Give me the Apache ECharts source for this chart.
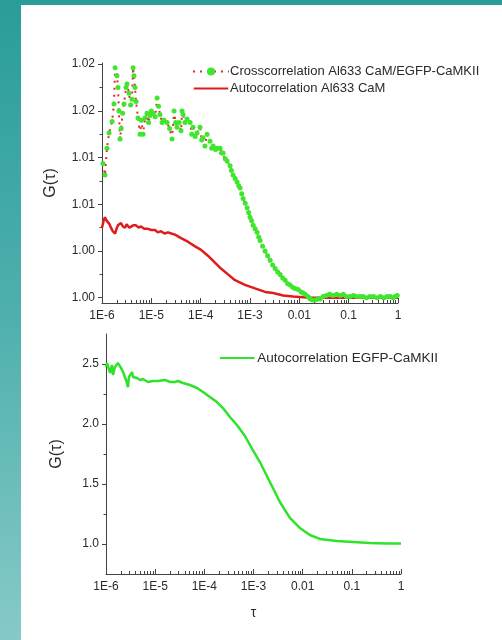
<!DOCTYPE html>
<html>
<head>
<meta charset="utf-8">
<script src="https://cdn.jsdelivr.net/npm/echarts@6/dist/echarts.min.js"></script>
<style>
  html, body { margin: 0; padding: 0; }
  body { width: 502px; height: 640px; position: relative; overflow: hidden;
         background: linear-gradient(to bottom, #2a9d99 0%, #4fb0ad 50%, #86cac8 100%); }
  #panel { position: absolute; left: 21px; top: 5px; right: 0; bottom: 0; background: #ffffff; }
  #chart { position: absolute; left: 0; top: 0; width: 502px; height: 640px; }
</style>
</head>
<body>
<div id="panel"></div>
<div id="chart"></div>
<script>
// Crosscorrelation Al633 CaM / EGFP-CaMKII (lag time τ in s, G(τ))
const crossTau = [1.05e-6,1.15e-6,1.26e-6,1.39e-6,1.60e-6,1.75e-6,1.84e-6,2.01e-6,2.11e-6,2.20e-6,
  2.32e-6,2.45e-6,2.62e-6,2.79e-6,3.07e-6,3.21e-6,3.53e-6,3.80e-6,4.06e-6,4.26e-6,
  4.45e-6,4.67e-6,4.90e-6,5.37e-6,5.90e-6,6.30e-6,6.79e-6,7.45e-6,8.18e-6,8.8e-6,
  9.4e-6,1.00e-5,1.08e-5,1.20e-5,1.31e-5,1.40e-5,1.50e-5,1.65e-5,1.81e-5,2.08e-5,
  2.35e-5,2.63e-5,2.89e-5,3.10e-5,3.32e-5,3.65e-5,4.00e-5,4.20e-5,4.40e-5,4.80e-5,
  5.30e-5,6.10e-5,6.60e-5,7.0e-5,7.7e-5,8.45e-5,9.7e-5,1.05e-4,1.12e-4,1.22e-4,
  1.35e-4,1.55e-4,1.67e-4,1.79e-4,2.0e-4,2.15e-4,2.48e-4,2.65e-4,2.85e-4,3.15e-4,
  3.43e-4,3.95e-4,4.2e-4,4.54e-4,5.0e-4,5.47e-4,5.9e-4,6.30e-4,6.8e-4,7.24e-4,
  8.0e-4,8.73e-4,9.4e-4,1.00e-3,1.08e-3,1.16e-3,1.27e-3,1.39e-3,1.50e-3,1.60e-3,
  1.80e-3,2.02e-3,2.28e-3,2.56e-3,2.88e-3,3.23e-3,3.65e-3,4.08e-3,4.6e-3,5.15e-3,
  5.8e-3,6.5e-3,7.3e-3,8.2e-3,9.5e-3,1.09e-2,1.19e-2,1.31e-2,1.50e-2,1.66e-2,
  1.85e-2,2.09e-2,2.35e-2,2.64e-2,3.04e-2,3.5e-2,4.1e-2,4.85e-2,5.7e-2,6.7e-2,
  7.8e-2,9.0e-2,0.107,0.125,0.145,0.170,0.197,0.23,0.27,0.32,
  0.378,0.44,0.52,0.60,0.695,0.80,0.88,0.964];
const crossG = [1.0115,1.0105,1.0128,1.0141,1.0151,1.0166,1.0197,1.0190,1.0180,1.0160,
  1.0136,1.0145,1.0158,1.0166,1.0180,1.0183,1.0175,1.0165,1.0170,1.0197,
  1.0190,1.0180,1.0168,1.0154,1.0140,1.0152,1.0140,1.0154,1.0158,1.0150,
  1.0156,1.0160,1.0158,1.0155,1.0171,1.0164,1.0157,1.0150,1.0152,1.0150,
  1.0145,1.0136,1.0160,1.0150,1.0146,1.0150,1.0143,1.0160,1.0157,1.0150,
  1.0153,1.0150,1.0140,1.0146,1.0138,1.0141,1.0146,1.0135,1.0137,1.0130,
  1.0140,1.0134,1.0128,1.0130,1.0127,1.0128,1.0128,1.0124,1.0124,1.0119,
  1.0117,1.0113,1.0109,1.0105,1.0102,1.0099,1.0096,1.0094,1.0089,1.0085,
  1.0081,1.0077,1.0073,1.0069,1.0066,1.0062,1.0059,1.0056,1.0052,1.0049,
  1.0044,1.0040,1.0036,1.0032,1.0028,1.0025,1.0022,1.0020,1.0017,1.0015,
  1.0012,1.0011,1.0009,1.0008,1.0007,1.0005,1.0004,1.0003,1.0001,0.9999,
  0.9998,0.9998,0.9999,0.9999,1.0001,1.0002,1.0003,1.0002,1.0003,1.0002,
  1.0003,1.0001,1.0001,1.0002,1.0001,1.0001,1.0001,1.0000,1.0001,1.0001,
  1.0000,1.0001,1.0000,1.0001,1.0001,1.0000,1.0001,1.0002];

// Autocorrelation Al633 CaM
const camTau = [1.0e-6,1.08e-6,1.15e-6,1.24e-6,1.32e-6,1.42e-6,1.52e-6,1.65e-6,1.84e-6,1.97e-6,
  2.11e-6,2.26e-6,2.43e-6,2.65e-6,2.93e-6,3.15e-6,3.37e-6,3.6e-6,3.87e-6,4.3e-6,
  4.89e-6,5.5e-6,6.18e-6,7.2e-6,8.56e-6,1.0e-5,1.19e-5,1.35e-5,1.57e-5,1.85e-5,
  2.17e-5,2.55e-5,3.01e-5,4.0e-5,5.5e-5,7.7e-5,1.02e-4,1.40e-4,1.95e-4,2.58e-4,
  3.58e-4,4.96e-4,7.9e-4,1.26e-3,2.02e-3,2.94e-3,4.7e-3,7.5e-3,1.66e-2,4.2e-2,
  0.17,1.0];
const camG = [1.0060,1.0066,1.0069,1.0066,1.0067,1.0063,1.0060,1.0057,1.0055,1.0059,
  1.0062,1.0063,1.0064,1.0061,1.0060,1.0063,1.0064,1.0060,1.0059,1.0062,
  1.0062,1.0060,1.0061,1.0059,1.0059,1.0058,1.0058,1.0056,1.0057,1.0055,
  1.0056,1.0055,1.0054,1.0051,1.0048,1.0044,1.0041,1.0036,1.0030,1.0025,
  1.0020,1.0015,1.0011,1.0008,1.0005,1.0004,1.0002,1.0001,1.0000,1.0000,
  1.0000,1.0000];

// Autocorrelation EGFP-CaMKII
const egfpTau = [1.0e-6,1.05e-6,1.21e-6,1.32e-6,1.39e-6,1.52e-6,1.75e-6,2.02e-6,2.22e-6,2.55e-6,
  2.80e-6,2.93e-6,3.38e-6,3.54e-6,4.27e-6,4.91e-6,5.65e-6,7.14e-6,9.0e-6,1.14e-5,
  1.58e-5,2.0e-5,2.52e-5,2.90e-5,3.67e-5,5.1e-5,7.1e-5,9.4e-5,1.30e-4,1.80e-4,
  2.39e-4,3.31e-4,4.6e-4,6.7e-4,9.7e-4,1.35e-3,1.87e-3,2.48e-3,3.44e-3,5.5e-3,
  8.8e-3,1.40e-2,2.24e-2,4.95e-2,0.105,0.232,0.514,1.0];
const egfpG = [2.475,2.508,2.425,2.492,2.408,2.475,2.508,2.467,2.433,2.367,
  2.308,2.392,2.433,2.392,2.383,2.367,2.375,2.350,2.358,2.358,
  2.367,2.350,2.350,2.358,2.342,2.325,2.300,2.267,2.225,2.183,
  2.133,2.058,1.992,1.900,1.783,1.683,1.567,1.467,1.350,1.217,
  1.133,1.075,1.042,1.025,1.017,1.008,1.005,1.005];

// Axis ticks
const xTickValues = [1e-6, 1e-5, 1e-4, 1e-3, 1e-2, 1e-1, 1];
const xTickLabels = ['1E-6', '1E-5', '1E-4', '1E-3', '0.01', '0.1', '1'];
const topYTicks = [1.000, 1.004, 1.008, 1.012, 1.016, 1.020];
const topYMinor = [1.002, 1.006, 1.010, 1.014, 1.018];
const botYTicks = [1.0, 1.5, 2.0, 2.5];
const botYMinor = [1.25, 1.75, 2.25];

const names = {
  cross: 'Crosscorrelation Al633 CaM/EGFP-CaMKII',
  cam: 'Autocorrelation Al633 CaM',
  egfp: 'Autocorrelation EGFP-CaMKII'
};

// minor ticks of a decade axis: 2..9 × each decade
const xMinor = [];
for (let e = -6; e < 0; e++) {
  for (let m = 2; m <= 9; m++) xMinor.push(m * Math.pow(10, e));
}

const zip = (a, b) => a.map((v, i) => [v, b[i]]);

const FONT = 'Liberation Sans, Arial, sans-serif';
const INK = '#2a2a2a';
const AX = '#444';
// plain line legend key: a thin bar centred in the key box
const LINE_KEY = 'path://M0,0h0.01v0.01h-0.01Z M0,4.6H40V7H0Z M0,11.6h0.01v0.01h-0.01Z';

function mainX(gridIndex, withName) {
  return {
    type: 'log', logBase: 10, gridIndex, min: 1e-6, max: 1, position: 'bottom',
    axisLine: { show: true, onZero: false, lineStyle: { color: AX, width: 1 } },
    axisTick: { show: true, inside: true, length: 5, customValues: xTickValues, lineStyle: { color: AX } },
    minorTick: { show: false },
    splitLine: { show: false },
    axisLabel: {
      customValues: xTickValues, margin: 7, color: INK, fontFamily: FONT, fontSize: 12,
      formatter: v => {
        const i = xTickValues.findIndex(t => Math.abs(Math.log10(t) - Math.log10(v)) < 1e-6);
        return i >= 0 ? xTickLabels[i] : '';
      }
    },
    name: withName ? 'τ' : '',
    nameLocation: 'middle', nameGap: 32,
    nameTextStyle: { color: INK, fontFamily: FONT, fontSize: 14 }
  };
}
function minorX(gridIndex) {
  return {
    type: 'log', logBase: 10, gridIndex, min: 1e-6, max: 1, position: 'bottom',
    axisLine: { show: false, onZero: false },
    axisTick: { show: true, inside: true, length: 3, customValues: xMinor, lineStyle: { color: AX } },
    axisLabel: { show: false },
    splitLine: { show: false }
  };
}
function mainY(gridIndex, min, max, ticks, digits, gap) {
  return {
    type: 'value', gridIndex, min, max, position: 'left',
    axisLine: { show: true, onZero: false, lineStyle: { color: AX, width: 1 } },
    axisTick: { show: true, inside: false, length: 4, customValues: ticks, lineStyle: { color: AX } },
    splitLine: { show: false },
    axisLabel: {
      customValues: ticks, margin: 7, color: INK, fontFamily: FONT, fontSize: 12,
      formatter: v => v.toFixed(digits)
    },
    name: 'G(τ)', nameLocation: 'middle', nameRotate: 90, nameGap: gap,
    nameTextStyle: { color: INK, fontFamily: FONT, fontSize: 16 }
  };
}
function minorY(gridIndex, min, max, ticks) {
  return {
    type: 'value', gridIndex, min, max, position: 'left',
    axisLine: { show: false, onZero: false },
    axisTick: { show: true, inside: false, length: 2.5, customValues: ticks, lineStyle: { color: AX } },
    axisLabel: { show: false },
    splitLine: { show: false }
  };
}

const chart = echarts.init(document.getElementById('chart'), null, { renderer: 'canvas' });
chart.setOption({
  backgroundColor: 'transparent',
  animation: false,
  grid: [
    { left: 102, right: 104, top: 63, height: 240 },
    { left: 106, right: 101, top: 334, height: 240 }
  ],
  xAxis: [mainX(0, false), minorX(0), mainX(1, true), minorX(1)],
  yAxis: [
    mainY(0, 0.99955, 1.0201, topYTicks, 2, 43),
    minorY(0, 0.99955, 1.0201, topYMinor),
    mainY(1, 0.75, 2.75, botYTicks, 1, 41),
    minorY(1, 0.75, 2.75, botYMinor)
  ],
  legend: [
    {
      data: [names.cross, { name: names.cam, icon: LINE_KEY }], orient: 'vertical', left: 187, top: 60,
      itemWidth: 36, itemHeight: 10, itemGap: 4,
      textStyle: { color: INK, fontFamily: FONT, fontSize: 13, padding: [0, 0, 0, -4] }
    },
    {
      data: [{ name: names.egfp, icon: LINE_KEY }], orient: 'vertical', left: 215, top: 346,
      itemWidth: 38, itemHeight: 10, itemGap: 3,
      textStyle: { color: INK, fontFamily: FONT, fontSize: 13.5, padding: [0, 0, 0, -4] }
    }
  ],
  series: [
    {
      name: names.cam, type: 'line', xAxisIndex: 0, yAxisIndex: 0,
      data: zip(camTau, camG), showSymbol: false, symbol: 'none',
      lineStyle: { color: '#e01b1b', width: 2.5 }, itemStyle: { color: '#e01b1b' }, z: 2
    },
    {
      name: names.cross, type: 'line', xAxisIndex: 0, yAxisIndex: 0,
      data: zip(crossTau, crossG), symbol: 'circle', symbolSize: 5, showAllSymbol: true,
      lineStyle: { color: '#e02a2a', width: 2, type: [2, 5] },
      itemStyle: { color: '#3ee62e', borderWidth: 0 }, z: 3
    },
    {
      name: names.egfp, type: 'line', xAxisIndex: 2, yAxisIndex: 2,
      data: zip(egfpTau, egfpG), showSymbol: false, symbol: 'none',
      lineStyle: { color: '#2fe32a', width: 2.5 }, itemStyle: { color: '#2fe32a' }
    }
  ]
});
</script>
</body>
</html>
